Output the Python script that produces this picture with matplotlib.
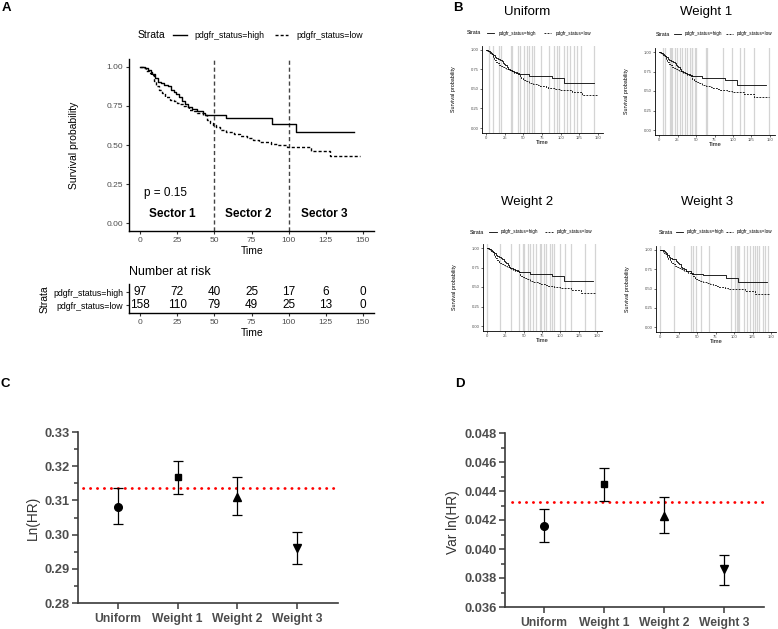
import matplotlib
matplotlib.use('Agg')
import matplotlib.pyplot as plt
from matplotlib.lines import Line2D
from matplotlib.ticker import MultipleLocator, FormatStrFormatter

plt.rcParams['font.family'] = ['Liberation Sans', 'DejaVu Sans']

# ---------------- data ----------------
strata_labels = ['pdgfr_status=high', 'pdgfr_status=low']

high_t = [0, 3, 5, 7, 8, 10, 12, 14, 16, 19, 21, 23, 24, 26, 28, 30, 32, 35, 38, 42, 44, 58, 89, 105]
high_s = [1.0, 0.99, 0.98, 0.965, 0.953, 0.93, 0.905, 0.895, 0.885, 0.875, 0.853, 0.838, 0.825,
          0.81, 0.78, 0.76, 0.745, 0.73, 0.72, 0.705, 0.69, 0.672, 0.635, 0.58]
high_end = 144

low_t = [0, 2, 4, 6, 7, 9, 11, 13, 15, 17, 20, 23, 25, 27, 29, 31, 33, 36, 38, 42, 45, 47, 49, 51,
         54, 58, 63, 67, 70, 72, 76, 80, 83, 88, 92, 99, 115, 128]
low_s = [1.0, 0.99, 0.975, 0.96, 0.95, 0.91, 0.875, 0.85, 0.83, 0.81, 0.79, 0.78, 0.77, 0.762,
         0.752, 0.74, 0.725, 0.715, 0.705, 0.693, 0.66, 0.64, 0.628, 0.612, 0.597, 0.58, 0.569,
         0.559, 0.555, 0.544, 0.533, 0.522, 0.516, 0.507, 0.497, 0.488, 0.463, 0.427]
low_end = 148

sector_breaks = [50, 100]
sector_names = ['Sector 1', 'Sector 2', 'Sector 3']
p_text = 'p = 0.15'

risk_times = [0, 25, 50, 75, 100, 125, 150]
risk_high = [97, 72, 40, 25, 17, 6, 0]
risk_low = [158, 110, 79, 49, 25, 13, 0]

b_titles = ['Uniform', 'Weight 1', 'Weight 2', 'Weight 3']
lines_uniform = [4, 10, 18, 20, 33, 35, 43, 46, 51, 55, 58, 62, 64, 74, 85, 91, 95, 98, 104, 108,
                 113, 118, 122, 127, 145]
lines_w1 = [5, 8, 15, 16, 18, 21, 24, 29, 31, 35, 38, 42, 44, 45, 48, 50, 63, 65, 86, 99, 109, 115,
            129, 148]
lines_w2 = [0, 18, 33, 44, 49, 51, 56, 58, 63, 67, 72, 74, 78, 81, 86, 88, 92, 99, 107, 115, 134, 147]
lines_w3 = [0, 19, 42, 45, 48, 56, 66, 96, 102, 104, 105, 107, 113, 117, 121, 126, 129, 131, 134,
            139, 142, 146]

categories = ['Uniform', 'Weight 1', 'Weight 2', 'Weight 3']
lnhr = [0.3082, 0.3167, 0.3111, 0.2962]
lnhr_lo = [0.3030, 0.3119, 0.3057, 0.2914]
lnhr_hi = [0.3135, 0.3214, 0.3168, 0.3008]
lnhr_ref = 0.3135

varhr = [0.04161, 0.04449, 0.04230, 0.03861]
varhr_lo = [0.04050, 0.04334, 0.04112, 0.03755]
varhr_hi = [0.04274, 0.04562, 0.04357, 0.03958]
varhr_ref = 0.04322

markers = ['o', 's', '^', 'v']
msizes = [5.5, 5, 6, 6]

# ---------------- helpers ----------------
W, H = 778, 629
fig = plt.figure(figsize=(W / 100, H / 100), dpi=100)


def rect(l, t, r, b):
    return [l / W, 1 - b / H, (r - l) / W, (b - t) / H]


def fx(x):
    return x / W


def fy(y):
    return 1 - y / H


LOW_DASH = (0, (2.2, 1.5))


def km(ax, lw):
    ax.step(high_t + [high_end], high_s + [high_s[-1]], where='post', color='black', lw=lw, zorder=3)
    ax.step(low_t + [low_end], low_s + [low_s[-1]], where='post', color='black', lw=lw,
            ls=LOW_DASH, zorder=3)


def strata_legend(x0, y, s, fs_title, fs_lab, lw):
    fig.text(fx(x0), fy(y), 'Strata', fontsize=fs_title, va='center', ha='left')
    fig.add_artist(Line2D([fx(x0 + 35 * s), fx(x0 + 49 * s)], [fy(y)] * 2, color='black', lw=lw))
    fig.text(fx(x0 + 56 * s), fy(y), strata_labels[0], fontsize=fs_lab, va='center', ha='left')
    fig.add_artist(Line2D([fx(x0 + 137 * s), fx(x0 + 150 * s)], [fy(y)] * 2, color='black', lw=lw,
                          ls=LOW_DASH))
    fig.text(fx(x0 + 158 * s), fy(y), strata_labels[1], fontsize=fs_lab, va='center', ha='left')


def classic(ax, lw):
    for sp in ['top', 'right']:
        ax.spines[sp].set_visible(False)
    for sp in ['left', 'bottom']:
        ax.spines[sp].set_linewidth(lw)
        ax.spines[sp].set_color('black')


# ---------------- Panel A ----------------
fig.text(fx(6), fy(8), 'A', fontsize=9.5, fontweight='bold', ha='center', va='center')
strata_legend(138, 35, 1.0, 7.5, 6.3, 1.0)

axA = fig.add_axes(rect(129, 59, 374, 231))
classic(axA, 1.0)
axA.set_xlim(-7.5, 157.5)
axA.set_ylim(-0.05, 1.05)
for b in sector_breaks:
    axA.axvline(b, color='#444444', lw=1.0, ls=(0, (3, 2)), zorder=2)
km(axA, 1.0)
axA.set_xticks(risk_times)
axA.set_yticks([0, 0.25, 0.5, 0.75, 1.0])
axA.yaxis.set_major_formatter(FormatStrFormatter('%.2f'))
axA.tick_params(labelsize=6, labelcolor='#4d4d4d', color='#333333', length=2.5, width=0.8, pad=1.5)
axA.text(2.5, 0.19, p_text, fontsize=8.5, ha='left', va='center')
for name, xc in zip(sector_names, [21.5, 73, 124]):
    axA.text(xc, 0.058, name, fontsize=8.5, fontweight='bold', ha='center', va='center')
fig.text(fx(74), fy(145), 'Survival probability', fontsize=7.5, rotation=90, ha='center', va='center')
fig.text(fx(252), fy(251), 'Time', fontsize=7.5, ha='center', va='center')

# risk table
fig.text(fx(129), fy(272), 'Number at risk', fontsize=9, ha='left', va='center')
axR = fig.add_axes(rect(129, 284.4, 374, 313))
classic(axR, 1.0)
axR.set_xlim(-7.5, 157.5)
axR.set_ylim(0.4, 2.6)
axR.set_xticks(risk_times)
axR.set_yticks([2, 1])
axR.set_yticklabels(strata_labels, fontsize=6.3, color='black')
axR.tick_params(axis='x', labelsize=6, labelcolor='#4d4d4d')
axR.tick_params(color='#333333', length=2.5, width=0.8, pad=1.5)
for t, nh, nl in zip(risk_times, risk_high, risk_low):
    axR.text(t, 2, str(nh), fontsize=8.5, ha='center', va='center')
    axR.text(t, 1, str(nl), fontsize=8.5, ha='center', va='center')
fig.text(fx(45), fy(299), 'Strata', fontsize=7.5, rotation=90, ha='center', va='center')
fig.text(fx(252), fy(333), 'Time', fontsize=7.5, ha='center', va='center')

# ---------------- Panel B ----------------
fig.text(fx(458), fy(8), 'B', fontsize=9.5, fontweight='bold', ha='center', va='center')

b_specs = [
    # title, title xy, x0px, x150px, y1px, y0px, lines, legend xy, legend scale
    (b_titles[0], (527, 12), 486, 598, 50, 128, lines_uniform, (467, 33), 0.56),
    (b_titles[1], (706, 12), 659, 770, 52, 130, lines_w1, (656, 34), 0.51),
    (b_titles[2], (527, 202), 487, 597, 248, 326, lines_w2, (470, 232), 0.55),
    (b_titles[3], (707, 202), 660, 771, 249.7, 327.3, lines_w3, (659, 232), 0.49),
]
for title, (tx, ty), x0, x150, y1, y0, vlines, (lx, ly), ls_ in b_specs:
    fig.text(fx(tx), fy(ty), title, fontsize=9.5, ha='center', va='center')
    pxu = (x150 - x0) / 150.0
    pyu = (y0 - y1)
    l = x0 - 5 * pxu
    r = x0 + 157 * pxu
    t = y1 - 0.05 * pyu
    b = y0 + 0.06 * pyu
    ax = fig.add_axes(rect(l, t, r, b))
    classic(ax, 0.6)
    ax.set_xlim(-5, 157)
    ax.set_ylim(-0.06, 1.05)
    for v in vlines:
        ax.axvline(v, color='#d4d4d4', lw=0.9, zorder=1)
    km(ax, 0.6)
    ax.set_xticks(risk_times)
    ax.set_yticks([0, 0.25, 0.5, 0.75, 1.0])
    ax.yaxis.set_major_formatter(FormatStrFormatter('%.2f'))
    ax.tick_params(labelsize=3, labelcolor='#4d4d4d', color='#333333', length=1.5, width=0.5, pad=1)
    fig.text(fx(l - 29), fy((t + b) / 2), 'Survival probability', fontsize=3.9, rotation=90,
             ha='center', va='center')
    fig.text(fx((l + r) / 2), fy(b + 9.5), 'Time', fontsize=4.2, ha='center', va='center')
    strata_legend(lx, ly, ls_, 3.8, 3.3, 0.6)

# ---------------- Panels C & D ----------------
GRAY = '#4d4d4d'


def forest(axrect, vals, lo, hi, ref, xlim, ylim, major, minor, fmt, reffrac):
    ax = fig.add_axes(axrect)
    for sp in ['top', 'right']:
        ax.spines[sp].set_visible(False)
    for sp in ['left', 'bottom']:
        ax.spines[sp].set_linewidth(1.2)
        ax.spines[sp].set_color('#3a3a3a')
    ax.set_xlim(*xlim)
    ax.set_ylim(*ylim)
    ax.axhline(ref, xmin=reffrac[0], xmax=reffrac[1], color='red', lw=2.0, dashes=(0.1, 2.4),
               dash_capstyle='round', zorder=2)
    for i, (v, l, h, m, ms) in enumerate(zip(vals, lo, hi, markers, msizes)):
        ax.errorbar(i, v, yerr=[[v - l], [h - v]], fmt=m, color='black', ms=ms, capsize=3.5,
                    elinewidth=0.9, capthick=0.9, zorder=3)
    ax.yaxis.set_major_locator(MultipleLocator(major))
    ax.yaxis.set_minor_locator(MultipleLocator(minor))
    ax.yaxis.set_major_formatter(FormatStrFormatter(fmt))
    ax.set_xticks(range(len(categories)))
    ax.set_xticklabels(categories)
    ax.tick_params(axis='y', which='major', length=4, width=1.1, color='#3a3a3a', pad=2,
                   labelsize=9.3, labelcolor=GRAY)
    ax.tick_params(axis='y', which='minor', length=2.8, width=1.1, color='#3a3a3a')
    ax.tick_params(axis='x', length=4, width=1.1, color='#3a3a3a', pad=3, labelsize=8.7,
                   labelcolor=GRAY)
    for lab in ax.get_yticklabels() + ax.get_xticklabels():
        lab.set_fontweight('bold')
    return ax


fig.text(fx(5), fy(384), 'C', fontsize=9.5, fontweight='bold', ha='center', va='center')
forest(rect(78, 432, 338, 603), lnhr, lnhr_lo, lnhr_hi, lnhr_ref, (-0.67, 3.685), (0.28, 0.33),
       0.01, 0.005, '%.2f', (0.019, 0.989))
fig.text(fx(33), fy(518), 'Ln(HR)', fontsize=9.8, rotation=90, ha='center', va='center',
         color='#333333')

fig.text(fx(460), fy(384), 'D', fontsize=9.5, fontweight='bold', ha='center', va='center')
forest(rect(505, 433, 764, 607), varhr, varhr_lo, varhr_hi, varhr_ref, (-0.65, 3.667),
       (0.036, 0.048), 0.002, 0.001, '%.3f', (0.027, 1.0))
fig.text(fx(453), fy(522), 'Var ln(HR)', fontsize=9.8, rotation=90, ha='center', va='center',
         color='#333333')

fig.savefig('out.png', dpi=100)
